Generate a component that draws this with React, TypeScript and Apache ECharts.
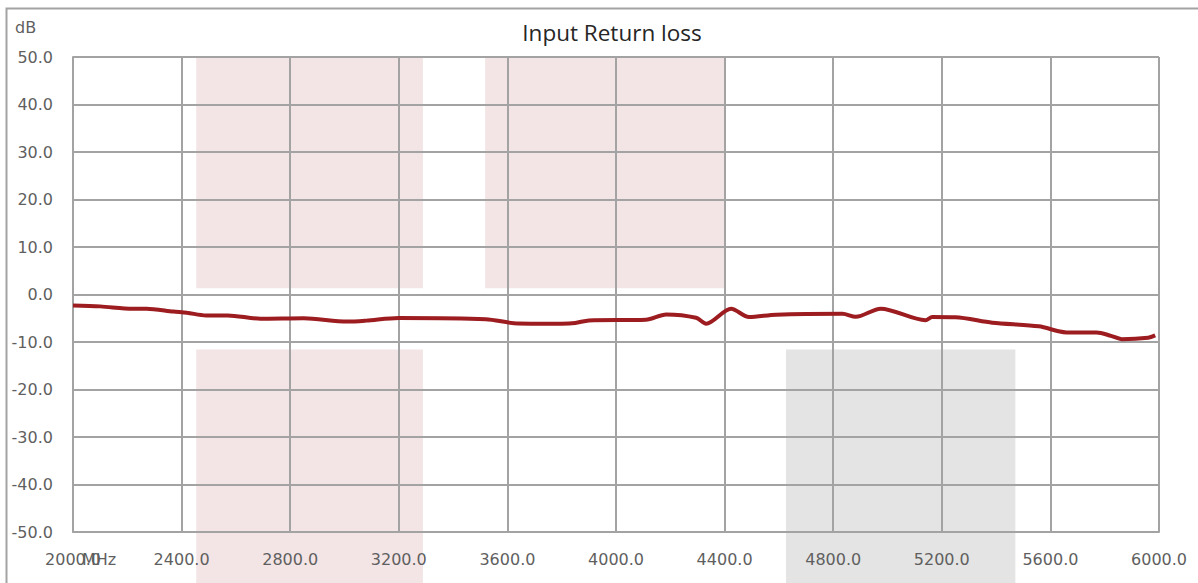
import React, { useEffect, useRef } from "react";
import * as echarts from "echarts";

// Frequency (MHz) and input return loss (dB)
const freqMHz = [2000, 2100, 2220, 2270, 2370, 2420, 2490, 2570, 2690, 2850, 3010, 3080, 3200, 3520, 3640, 3800, 3850, 3900, 4110, 4185, 4295, 4332, 4424, 4490, 4590, 4834, 4883, 4975, 5140, 5165, 5250, 5386, 5557, 5630, 5660, 5770, 5823, 5863, 5960, 5986];
const returnLossDb = [-2.3, -2.5, -3.0, -3.0, -3.6, -3.85, -4.4, -4.4, -5.1, -5.0, -5.7, -5.5, -4.95, -5.2, -6.1, -6.15, -6.0, -5.45, -5.3, -4.2, -4.9, -6.15, -3.0, -4.75, -4.25, -4.05, -4.7, -3.0, -5.4, -4.75, -4.8, -5.95, -6.7, -7.75, -8.0, -8.0, -8.7, -9.4, -9.1, -8.6];

// Shaded bands: [start MHz, end MHz, top dB, bottom dB (null = down to bottom edge)]
const bandStart = [2454, 2454, 3518, 4626];
const bandEnd = [3289, 3289, 4398, 5471];
const bandTop = [50, -11.6, 50, -11.6];
const bandBottom: (number | null)[] = [1.3, null, 1.3, null];
const bandKind = ["pink", "pink", "pink", "gray"];

const xTicks = { min: 2000, max: 6000, interval: 400 };
const yTicks = { min: -50, max: 50, interval: 10 };

const TITLE = "Input Return loss";

export default function App() {
  const ref = useRef<HTMLDivElement>(null);
  useEffect(() => {
    if (!ref.current) return;
    const chart = echarts.init(ref.current, undefined, { renderer: "svg" });
    const gridColor = "#a3a3a3";
    const labelColor = "#5f5f5f";
    const font = "'DejaVu Sans', sans-serif";
    const bandData = bandStart.map((s, i) => [s, bandEnd[i], bandTop[i], bandBottom[i] ?? -9999, i]);
    chart.setOption({
      animation: false,
      title: {
        text: TITLE,
        left: 607,
        textAlign: "center",
        top: 16,
        textStyle: { fontFamily: "'Open Sans', sans-serif", fontSize: 22.5, fontWeight: "normal", color: "#262626" },
      },
      grid: { left: 73, right: 39, top: 57, height: 475 },
      xAxis: {
        type: "value",
        min: xTicks.min,
        max: xTicks.max,
        interval: xTicks.interval,
        z: 3,
        axisLine: { show: true, onZero: false, lineStyle: { color: gridColor, width: 2 } },
        axisTick: { show: false },
        splitLine: { show: true, lineStyle: { color: gridColor, width: 2 } },
        axisLabel: {
          formatter: (v: number) => v.toFixed(1),
          color: labelColor,
          fontFamily: font,
          fontSize: 16,
          margin: 19,
        },
      },
      yAxis: {
        type: "value",
        min: yTicks.min,
        max: yTicks.max,
        interval: yTicks.interval,
        z: 3,
        axisLine: { show: true, lineStyle: { color: gridColor, width: 2 } },
        axisTick: { show: false },
        splitLine: { show: true, lineStyle: { color: gridColor, width: 2 } },
        axisLabel: {
          formatter: (v: number) => v.toFixed(1),
          color: labelColor,
          fontFamily: font,
          fontSize: 16,
          margin: 20,
        },
      },
      graphic: [
        {
          type: "rect",
          silent: true,
          shape: { x: 6.5, y: 8.5, width: 1220, height: 620 },
          style: { fill: "none", stroke: gridColor, lineWidth: 2 },
        },
        {
          type: "text",
          left: 15,
          top: 19,
          style: { text: "dB", fill: labelColor, font: `16px ${font}` },
        },
        {
          type: "text",
          left: 82,
          top: 551,
          style: { text: "MHz", fill: labelColor, font: `16px ${font}` },
        },
      ],
      series: [
        {
          type: "custom",
          z: 1,
          clip: false,
          silent: true,
          data: bandData,
          renderItem: (params: any, api: any) => {
            const s = api.value(0);
            const e = api.value(1);
            const t = api.value(2);
            const b = api.value(3);
            const idx = api.value(4);
            const p1 = api.coord([s, t]);
            const p2 = api.coord([e, t]);
            const yb = b < -1000 ? api.getHeight() : api.coord([s, b])[1];
            return {
              type: "rect",
              shape: { x: p1[0], y: p1[1], width: p2[0] - p1[0], height: yb - p1[1] },
              style: { fill: bandKind[idx] === "gray" ? "#e4e4e4" : "#f3e5e6" },
            };
          },
        },
        {
          type: "line",
          z: 5,
          data: freqMHz.map((f, i) => [f, returnLossDb[i]]),
          smooth: 0.3,
          showSymbol: false,
          lineStyle: { color: "#9c1c20", width: 4 },
        },
      ],
    });
    return () => chart.dispose();
  }, []);
  return (
    <div
      ref={ref}
      style={{ position: "absolute", left: 0, top: 0, width: 1198, height: 583, background: "#fff" }}
    />
  );
}
